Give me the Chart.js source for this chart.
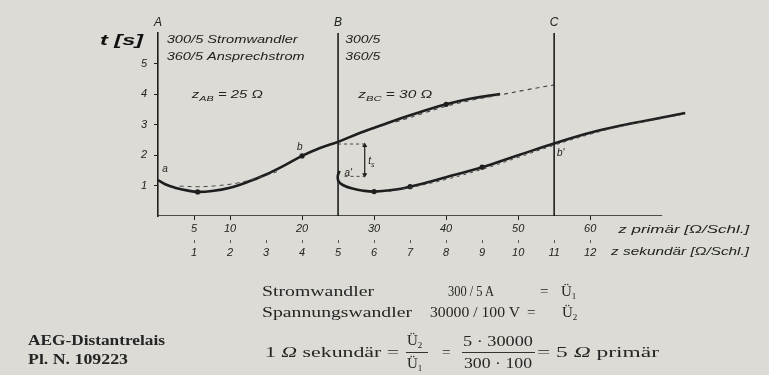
<!DOCTYPE html>
<html>
<head>
<meta charset="utf-8">
<script src="https://cdn.jsdelivr.net/npm/chart.js@4.4.1/dist/chart.umd.min.js"></script>
<style>
  html, body { margin:0; padding:0; background:#dcdbd5; }
  #wrap { position:relative; width:769px; height:375px; overflow:hidden; background:#dcdbd5; }
  canvas { position:absolute; left:0; top:0; }
  .t { position:absolute; font-family:'Liberation Serif','DejaVu Serif',serif; font-size:15px; color:#252525;
       white-space:nowrap; line-height:16px; height:16px; transform-origin:left center; }
  .t sub { font-size:9px; vertical-align:-3px; line-height:0; }
  .rule { position:absolute; height:1px; background:#333; }
</style>
</head>
<body>
<div id="wrap">
  <canvas id="c" width="769" height="375"></canvas>

  <div class="t" style="left:262px;top:283px" data-w="112">Stromwandler</div>
  <div class="t" style="left:448px;top:283px" data-w="46">300 / 5 A</div>
  <div class="t" style="left:540px;top:283px">=</div>
  <div class="t" style="left:561px;top:283px">Ü<sub>1</sub></div>

  <div class="t" style="left:262px;top:304px" data-w="150">Spannungswandler</div>
  <div class="t" style="left:430px;top:304px" data-w="90">30000 / 100 V</div>
  <div class="t" style="left:527px;top:304px">=</div>
  <div class="t" style="left:562px;top:304px">Ü<sub>2</sub></div>

  <div class="t" style="left:28px;top:332px;font-weight:bold" data-w="137">AEG-Distantrelais</div>
  <div class="t" style="left:28px;top:351px;font-weight:bold" data-w="100">Pl. N. 109223</div>

  <div class="t" style="left:265px;top:344px" data-w="134">1 <i>Ω</i> sekundär =</div>
  <div class="t" style="left:407px;top:332px">Ü<sub>2</sub></div>
  <div class="rule" style="left:406px;top:352px;width:22px"></div>
  <div class="t" style="left:407px;top:355px">Ü<sub>1</sub></div>
  <div class="t" style="left:442px;top:344px">=</div>
  <div class="t" style="left:463px;top:333px" data-w="70">5 · 30000</div>
  <div class="rule" style="left:462px;top:352px;width:73px"></div>
  <div class="t" style="left:464px;top:355px" data-w="68">300 · 100</div>
  <div class="t" style="left:537px;top:344px" data-w="122">= 5 <i>Ω</i> primär</div>
</div>

<script>
// ---------------- data ----------------
const zoneBounds = [0, 25, 55];          // z primär of stations A, B, C
const zoneNames  = ['A', 'B', 'C'];
const tMaxAxis   = 6;
const zAxisEnd   = 70;                   // drawn length of the z axis

const xTicksPrimary   = [5, 10, 20, 30, 40, 50, 60];
const xTicksSecondary = [1, 2, 3, 4, 5, 6, 7, 8, 9, 10, 11, 12];
const yTicks          = [1, 2, 3, 4, 5];

// relay A characteristic (solid)
const curve1Z = [0, 1, 2.5, 4, 5.5, 7.5, 10, 12.5, 15, 17.5, 20, 22.5, 25, 28, 31.8, 35, 40, 43.5, 47.5];
const curve1T = [1.18, 1.04, 0.92, 0.84, 0.79, 0.82, 0.93, 1.12, 1.36, 1.65, 1.97, 2.23, 2.43, 2.72, 3.04, 3.3, 3.66, 3.85, 4.0];
const markers1Z = [5.5, 20, 40];

// relay A dashed reference line (first zone and extension to C)
const dash1aZ = [3, 5.5, 8, 11, 14, 16.5];
const dash1aT = [0.98, 0.96, 0.99, 1.08, 1.26, 1.45];
const dash1bZ = [33, 37, 40, 44, 47.5, 51, 55];
const dash1bT = [3.08, 3.38, 3.6, 3.82, 3.97, 4.13, 4.3];

// relay B characteristic (solid)
const curve2Z = [25.2, 24.95, 25.1, 25.8, 27, 28.5, 30, 32.5, 35, 40, 45, 50, 55, 60, 65, 70, 73.2];
const curve2T = [1.48, 1.3, 1.12, 1.0, 0.9, 0.83, 0.8, 0.85, 0.96, 1.27, 1.6, 1.99, 2.38, 2.73, 3.0, 3.23, 3.38];
const markers2Z = [30, 35, 45];

// relay B dashed reference line
const dash2Z = [32, 36, 40, 45, 50, 55, 60, 65, 70, 72.5];
const dash2T = [0.8, 0.98, 1.2, 1.53, 1.92, 2.32, 2.68, 2.98, 3.2, 3.31];

// grading time t_s between the two relays at B
const tsZ = 28.7;
const tsTop = 2.36;
const tsBottom = 1.3;

// ---------------- helpers ----------------
const ink = '#1e1e1e';
const zip = (zs, ts) => zs.map((z, i) => ({ x: z, y: ts[i] }));
const vline = z => [{ x: z, y: 0 }, { x: z, y: tMaxAxis }];

const datasets = [
  { data: [{ x: zoneBounds[0], y: 0 }, { x: zAxisEnd, y: 0 }], borderColor: ink, borderWidth: 1.6, pointRadius: 0 },
  { data: vline(zoneBounds[1]), borderColor: ink, borderWidth: 1.6, pointRadius: 0 },
  { data: vline(zoneBounds[2]), borderColor: ink, borderWidth: 1.6, pointRadius: 0 },
  { data: zip(dash1aZ, dash1aT), borderColor: '#444', borderWidth: 1, borderDash: [4, 4], pointRadius: 0, tension: 0.4 },
  { data: zip(dash1bZ, dash1bT), borderColor: '#444', borderWidth: 1.1, borderDash: [4, 4], pointRadius: 0, tension: 0.4 },
  { data: zip(dash2Z, dash2T), borderColor: '#444', borderWidth: 1, borderDash: [3, 4], pointRadius: 0, tension: 0.4 },
  { data: [{ x: zoneBounds[1], y: tsTop }, { x: tsZ, y: tsTop }], borderColor: '#444', borderWidth: 1, borderDash: [3, 3], pointRadius: 0 },
  { data: [{ x: zoneBounds[1] + 0.9, y: tsBottom }, { x: tsZ, y: tsBottom }], borderColor: '#444', borderWidth: 1, borderDash: [3, 3], pointRadius: 0 },
  { data: [{ x: tsZ, y: tsTop - 0.05 }, { x: tsZ, y: tsBottom + 0.05 }], borderColor: ink, borderWidth: 1.2,
    pointStyle: 'triangle', pointRadius: 3, pointRotation: [0, 180], pointBackgroundColor: ink, pointBorderColor: ink, pointBorderWidth: 0 },
  { data: zip(curve1Z, curve1T), borderColor: ink, borderWidth: 2.6, tension: 0.4,
    pointRadius: c => (c.raw && markers1Z.includes(c.raw.x)) ? 2.6 : 0, pointBackgroundColor: ink, pointBorderWidth: 0 },
  { data: zip(curve2Z, curve2T), borderColor: ink, borderWidth: 2.6, tension: 0.4,
    pointRadius: c => (c.raw && markers2Z.includes(c.raw.x)) ? 2.6 : 0, pointBackgroundColor: ink, pointBorderWidth: 0 }
];

function drawText(ctx, parts, px, py, font, opts = {}) {
  // parts: array of [text, isSub]
  ctx.save();
  ctx.fillStyle = opts.color || '#222';
  ctx.textBaseline = 'middle';
  const subFont = opts.subFont || font.replace(/(\d+)px/, (m, n) => Math.round(n * 0.7) + 'px');
  let total = 0;
  parts.forEach(([s, sub]) => { ctx.font = sub ? subFont : font; total += ctx.measureText(s).width; });
  let sx = opts.width ? opts.width / total : 1;
  let x0 = px;
  if (opts.align === 'center') x0 = px - total * sx / 2;
  if (opts.align === 'right') x0 = px - total * sx;
  ctx.translate(x0, py);
  ctx.scale(sx, 1);
  let cx = 0;
  parts.forEach(([s, sub]) => {
    ctx.font = sub ? subFont : font;
    ctx.fillText(s, cx, sub ? 4 : 0);
    cx += ctx.measureText(s).width;
  });
  ctx.restore();
}

const FAM = "'Liberation Sans','DejaVu Sans',sans-serif";
const labelPlugin = {
  id: 'labels',
  afterDraw(chart) {
    const { ctx, chartArea: ca, scales: { x, y } } = chart;
    const P = (z, t) => [x.getPixelForValue(z), y.getPixelForValue(t)];
    const f11 = 'italic 11px ' + FAM;
    // station letters
    zoneBounds.forEach((z, i) => drawText(ctx, [[zoneNames[i]]], x.getPixelForValue(z), ca.top - 10, 'italic 12px ' + FAM, { align: 'center' }));
    // axis title t [s]
    drawText(ctx, [['t [s]']], ca.left - 15, y.getPixelForValue(5.72), 'italic bold 14px ' + FAM, { align: 'right', width: 43, color: '#111' });
    // transformer notes
    let p = P(1.2, 5.77); drawText(ctx, [['300/5 Stromwandler']], p[0], p[1], f11, { width: 131 });
    p = P(1.2, 5.21); drawText(ctx, [['360/5 Ansprechstrom']], p[0], p[1], f11, { width: 138 });
    p = P(26, 5.77); drawText(ctx, [['300/5']], p[0], p[1], f11, { width: 35 });
    p = P(26, 5.21); drawText(ctx, [['360/5']], p[0], p[1], f11, { width: 35 });
    // zone impedances
    p = P(4.7, 3.97); drawText(ctx, [['z'], ['AB', true], [' = 25 Ω']], p[0], p[1], f11, { width: 71 });
    p = P(27.8, 3.97); drawText(ctx, [['z'], ['BC', true], [' = 30 Ω']], p[0], p[1], f11, { width: 74 });
    // point letters
    p = P(0.6, 1.52); drawText(ctx, [['a']], p[0], p[1], 'italic 10px ' + FAM);
    p = P(19.3, 2.27); drawText(ctx, [['b']], p[0], p[1], 'italic 10px ' + FAM);
    p = P(25.9, 1.4); drawText(ctx, [["a'"]], p[0], p[1], 'italic 10px ' + FAM);
    p = P(55.4, 2.05); drawText(ctx, [["b'"]], p[0], p[1], 'italic 10px ' + FAM);
    p = P(29.2, 1.8); drawText(ctx, [['t'], ['s', true]], p[0], p[1], 'italic 10px ' + FAM);
    // x axis titles
    drawText(ctx, [['z primär [Ω/Schl.]']], x.getPixelForValue(63.9), ca.bottom + 14, f11, { width: 131 });
    drawText(ctx, [['z sekundär [Ω/Schl.]']], x.getPixelForValue(62.9), ca.bottom + 36, f11, { width: 138 });
  }
};

const tickFont = { family: FAM, size: 11, style: 'italic' };
new Chart(document.getElementById('c'), {
  type: 'line',
  data: { datasets },
  plugins: [labelPlugin],
  options: {
    responsive: false,
    animation: false,
    events: [],
    layout: { padding: { left: 118, right: 78, top: 33, bottom: 111 } },
    plugins: { legend: { display: false }, tooltip: { enabled: false } },
    scales: {
      x: {
        type: 'linear', position: 'bottom', min: 0, max: 74,
        border: { display: false },
        grid: { drawOnChartArea: false, tickLength: 4, color: ink, lineWidth: 1 },
        afterBuildTicks: s => { s.ticks = xTicksPrimary.map(v => ({ value: v })); },
        afterFit: s => { s.height = 24; },
        ticks: { autoSkip: false, maxRotation: 0, padding: 2, color: '#222', font: tickFont, callback: v => String(v) }
      },
      x2: {
        type: 'linear', position: 'bottom', min: 0, max: 74 / 5,
        border: { display: false },
        grid: { drawOnChartArea: false, tickLength: 3, color: '#555', lineWidth: 1 },
        afterBuildTicks: s => { s.ticks = xTicksSecondary.map(v => ({ value: v })); },
        afterFit: s => { s.height = 24; },
        ticks: { autoSkip: false, maxRotation: 0, padding: 3, color: '#222', font: tickFont, callback: v => String(v) }
      },
      y: {
        type: 'linear', min: 0, max: tMaxAxis,
        border: { display: true, color: ink, width: 1.6 },
        grid: { drawOnChartArea: false, tickLength: 4, color: ink },
        afterBuildTicks: s => { s.ticks = yTicks.map(v => ({ value: v })); },
        afterFit: s => { s.width = 40; },
        ticks: { padding: 7, color: '#222', font: tickFont, callback: v => String(v) }
      }
    }
  }
});

// fit serif texts to the measured widths of the original lettering
document.querySelectorAll('.t[data-w]').forEach(el => {
  const w = el.getBoundingClientRect().width;
  const target = parseFloat(el.dataset.w);
  if (w > 0) el.style.transform = `scaleX(${(target / w).toFixed(3)})`;
});
</script>
</body>
</html>
